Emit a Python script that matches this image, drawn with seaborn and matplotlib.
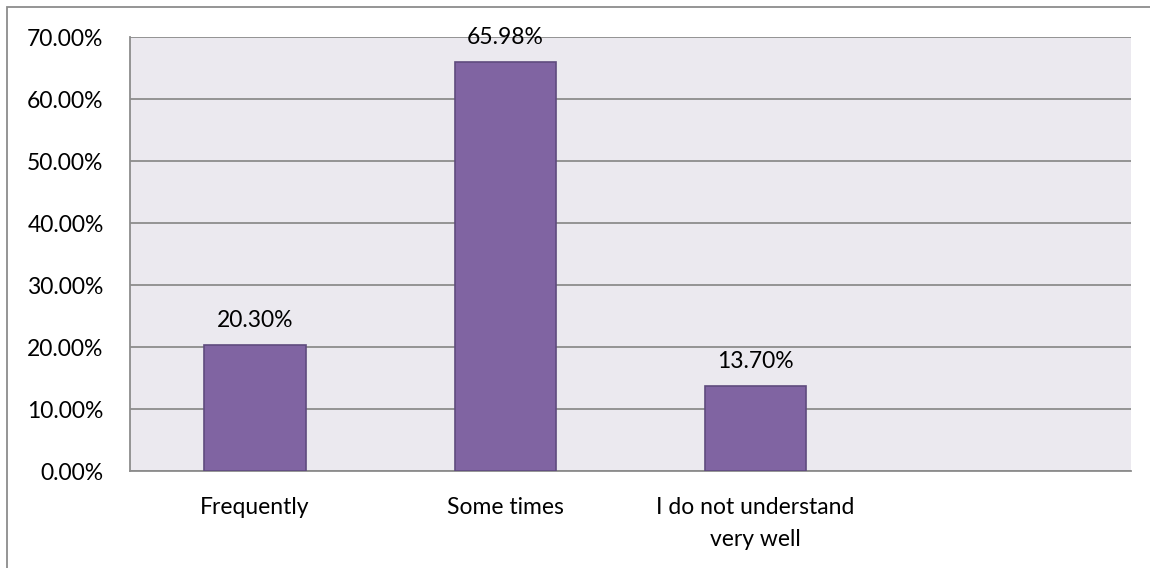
import matplotlib
matplotlib.use("Agg")
import matplotlib.pyplot as plt
import matplotlib.patches as mpatches
from matplotlib.ticker import FixedLocator, FuncFormatter
import seaborn as sns
import pandas as pd

categories = ["Frequently", "Some times", "I do not understand\nvery well"]
values = [20.30, 65.98, 13.70]
slot_order = categories + [""]
y_ticks = [0, 10, 20, 30, 40, 50, 60, 70]

sns.set_style("white")
plt.rcParams["font.family"] = ["Lato", "DejaVu Sans"]
plt.rcParams["text.color"] = "black"
plt.rcParams["xtick.color"] = "black"
plt.rcParams["ytick.color"] = "black"

bar_color = "#8064A2"
edge_color = "#5F4B7E"
grid_color = "#8C8C8C"
plot_bg = "#EBE9EF"
font_size = 16.5

df = pd.DataFrame({"category": categories, "value": values})

fig = plt.figure(figsize=(11.5, 5.68), dpi=100)
ax = fig.add_axes([130 / 1150, 1 - 471 / 568, (1131 - 130) / 1150, (471 - 37) / 568])
ax.set_facecolor(plot_bg)

sns.barplot(data=df, x="category", y="value", order=slot_order,
            color=bar_color, width=0.405, edgecolor=edge_color,
            linewidth=1.2, saturation=1, ax=ax, zorder=3)

ax.set_xlim(-0.5, len(slot_order) - 0.5)
ax.set_ylim(0, 70)
ax.set_xlabel("")
ax.set_ylabel("")

# y axis: percent labels with gridlines
ax.yaxis.set_major_locator(FixedLocator(y_ticks))
ax.yaxis.set_major_formatter(FuncFormatter(lambda v, _: f"{v:.2f}%"))
ax.grid(axis="y", color=grid_color, linewidth=1.3, zorder=0)
ax.set_axisbelow(True)
ax.tick_params(axis="y", which="major", length=6, width=1.3, color=grid_color,
               direction="out", labelsize=font_size, pad=13)

# x axis: ticks on slot boundaries, no labels
ax.xaxis.set_major_locator(FixedLocator([i - 0.5 for i in range(len(slot_order) + 1)]))
ax.xaxis.set_major_formatter(FuncFormatter(lambda v, _: ""))
ax.tick_params(axis="x", which="major", length=7, width=1.3, color=grid_color, direction="out")

# category names centered in their slots, below the axis
label_tf = ax.get_xaxis_transform()
for i, name in enumerate(categories):
    ax.annotate(name, xy=(i, 0), xycoords=label_tf, xytext=(0, -19),
                textcoords="offset points", ha="center", va="top",
                fontsize=font_size, linespacing=1.6, annotation_clip=False)

for side in ["top", "right"]:
    ax.spines[side].set_visible(False)
for side in ["left", "bottom"]:
    ax.spines[side].set_color(grid_color)
    ax.spines[side].set_linewidth(1.3)

# value labels above bars
for i, v in enumerate(values):
    ax.annotate(f"{v:.2f}%", xy=(i, v), xytext=(0, 10), textcoords="offset points",
                ha="center", va="bottom", fontsize=font_size, zorder=4)

# chart frame
fig.patches.append(mpatches.Rectangle((7 / 1150, -0.01), 1.02, 1 - 7 / 568 + 0.01,
                                      transform=fig.transFigure, fill=False,
                                      edgecolor=grid_color, linewidth=1.3))

fig.savefig("out.png", dpi=100)
